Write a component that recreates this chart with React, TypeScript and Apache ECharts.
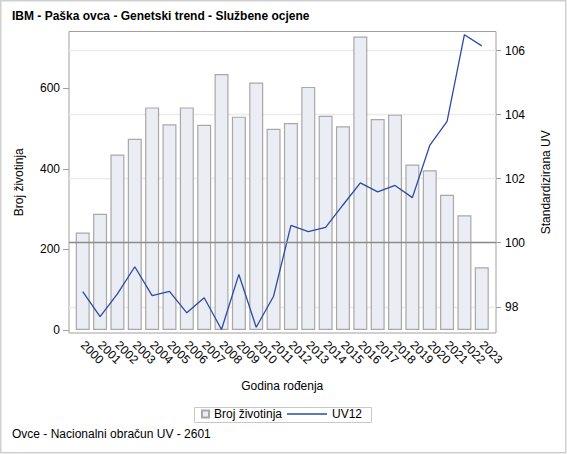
import { useEffect, useRef } from 'react'
import * as echarts from 'echarts'

const FONT = '"Liberation Sans", Arial, sans-serif'

const godine = [
  '2000', '2001', '2002', '2003', '2004', '2005', '2006', '2007', '2008', '2009', '2010', '2011',
  '2012', '2013', '2014', '2015', '2016', '2017', '2018', '2019', '2020', '2021', '2022', '2023',
]
// broj životinja po godini rođenja (lijeva os)
const brojZivotinja = [
  242, 289, 436, 475, 553, 511, 553, 510, 636, 530, 615, 500,
  514, 604, 532, 506, 729, 524, 535, 411, 397, 336, 285, 156,
]
// standardizirana UV12 (desna os)
const uv12 = [
  98.47, 97.69, 98.4, 99.25, 98.35, 98.48, 97.81, 98.28, 97.29, 99.01, 97.36, 98.33,
  100.54, 100.35, 100.48, 101.18, 101.87, 101.59, 101.79, 101.41, 103.04, 103.79, 106.5, 106.15,
]
const lijeveOznake = [0, 200, 400, 600]
const desneOznake = [98, 100, 102, 104, 106]

const LIJEVO_MIN = -7.45
const LIJEVO_MAX = 741.6
const DESNO_MIN = 97.18
const DESNO_MAX = 106.6

const App = () => {
  const chartRef = useRef<HTMLDivElement>(null)

  useEffect(() => {
    if (!chartRef.current) return
    const chart = echarts.init(chartRef.current, null, { renderer: 'svg' })

    const txt = { fontFamily: FONT, fontSize: 12, color: '#000' }
    const tickStyle = { color: '#a0a0a0', width: 1 }

    chart.setOption({
      animation: false,
      backgroundColor: '#fff',
      textStyle: { fontFamily: FONT },
      title: [
        {
          text: 'IBM - Paška ovca - Genetski trend - Službene ocjene',
          left: 12,
          top: 10,
          padding: 0,
          textStyle: { ...txt, fontWeight: 'bold' },
        },
        {
          text: 'Ovce - Nacionalni obračun UV - 2601',
          left: 12,
          top: 428,
          padding: 0,
          textStyle: { ...txt, fontWeight: 'normal' },
        },
      ],
      legend: [
        {
          data: ['Broj životinja'],
          left: 201,
          top: 408,
          padding: 0,
          itemWidth: 7,
          itemHeight: 7,
          icon: 'rect',
          selectedMode: false,
          textStyle: txt,
        },
        {
          data: ['UV12'],
          left: 287,
          top: 408,
          padding: 0,
          itemWidth: 40,
          itemHeight: 1.3,
          icon: 'rect',
          itemStyle: { color: '#2a4aa8', borderWidth: 0 },
          selectedMode: false,
          textStyle: txt,
        },
      ],
      graphic: [
        {
          type: 'rect',
          silent: true,
          shape: { x: 0.75, y: 0.75, width: 565, height: 452 },
          style: { fill: 'none', stroke: '#d0d0d0', lineWidth: 1.5 },
        },
        {
          type: 'rect',
          silent: true,
          shape: { x: 194.5, y: 407.5, width: 177, height: 15 },
          style: { fill: 'none', stroke: '#c8c8c8', lineWidth: 1 },
        },
      ],
      grid: [
        {
          left: 69,
          top: 31.5,
          width: 427,
          height: 301.5,
          show: true,
          borderColor: '#a0a0a0',
          borderWidth: 1,
          backgroundColor: 'transparent',
        },
        { left: 74.05, top: 31.5, width: 416.4, height: 301.5 },
      ],
      xAxis: [
        { type: 'value', gridIndex: 0, min: 0, max: 1, show: false },
        {
          type: 'category',
          gridIndex: 1,
          data: godine,
          axisLine: { show: false },
          axisTick: { alignWithLabel: true, length: 5, lineStyle: tickStyle },
          axisLabel: { ...txt, interval: 0, rotate: -45, margin: 10, padding: [18, 0, 0, 0] },
          name: 'Godina rođenja',
          nameLocation: 'middle',
          nameGap: 47,
          nameMoveOverlap: false,
          nameTextStyle: txt,
        },
      ],
      yAxis: [
        {
          type: 'value',
          gridIndex: 0,
          position: 'left',
          min: LIJEVO_MIN,
          max: LIJEVO_MAX,
          splitNumber: 4,
          axisLine: { show: false },
          axisTick: { show: true, length: 6, customValues: lijeveOznake, lineStyle: tickStyle },
          axisLabel: { ...txt, customValues: lijeveOznake, margin: 9 },
          splitLine: { show: false },
          name: 'Broj životinja',
          nameLocation: 'middle',
          nameGap: 44,
          nameRotate: 90,
          nameMoveOverlap: false,
          nameTextStyle: txt,
        },
        {
          type: 'value',
          gridIndex: 0,
          position: 'right',
          min: DESNO_MIN,
          max: DESNO_MAX,
          splitNumber: 4,
          axisLine: { show: false },
          axisTick: { show: true, length: 5, customValues: desneOznake, lineStyle: tickStyle },
          axisLabel: { ...txt, customValues: desneOznake, margin: 9 },
          splitLine: { show: true, lineStyle: { color: '#ebebeb', width: 1.3 } },
          name: 'Standardizirana UV',
          nameLocation: 'middle',
          nameGap: 44,
          nameRotate: 90,
          nameMoveOverlap: false,
          nameTextStyle: txt,
        },
        { type: 'value', gridIndex: 1, min: LIJEVO_MIN, max: LIJEVO_MAX, show: false },
        { type: 'value', gridIndex: 1, position: 'right', min: DESNO_MIN, max: DESNO_MAX, show: false },
      ],
      series: [
        {
          name: 'Broj životinja',
          type: 'bar',
          xAxisIndex: 1,
          yAxisIndex: 2,
          data: brojZivotinja,
          barWidth: 14,
          itemStyle: { color: '#eaeef4', borderColor: '#a8a8a8', borderWidth: 1.2 },
          z: 2,
        },
        {
          type: 'line',
          xAxisIndex: 0,
          yAxisIndex: 1,
          data: [],
          silent: true,
          z: 3,
          markLine: {
            silent: true,
            symbol: ['none', 'none'],
            label: { show: false },
            lineStyle: { color: '#8c8c8c', width: 1.3, type: 'solid' },
            data: [{ yAxis: 100 }],
          },
        },
        {
          name: 'UV12',
          type: 'line',
          xAxisIndex: 1,
          yAxisIndex: 3,
          data: uv12,
          symbol: 'none',
          lineStyle: { color: '#2a4aa8', width: 1.3 },
          itemStyle: { color: '#2a4aa8' },
          z: 4,
        },
      ],
    })

    return () => {
      chart.dispose()
    }
  }, [])

  return (
    <div
      ref={chartRef}
      style={{ position: 'fixed', left: 0, top: 0, width: 567, height: 454, background: '#fff' }}
    />
  )
}

export default App
